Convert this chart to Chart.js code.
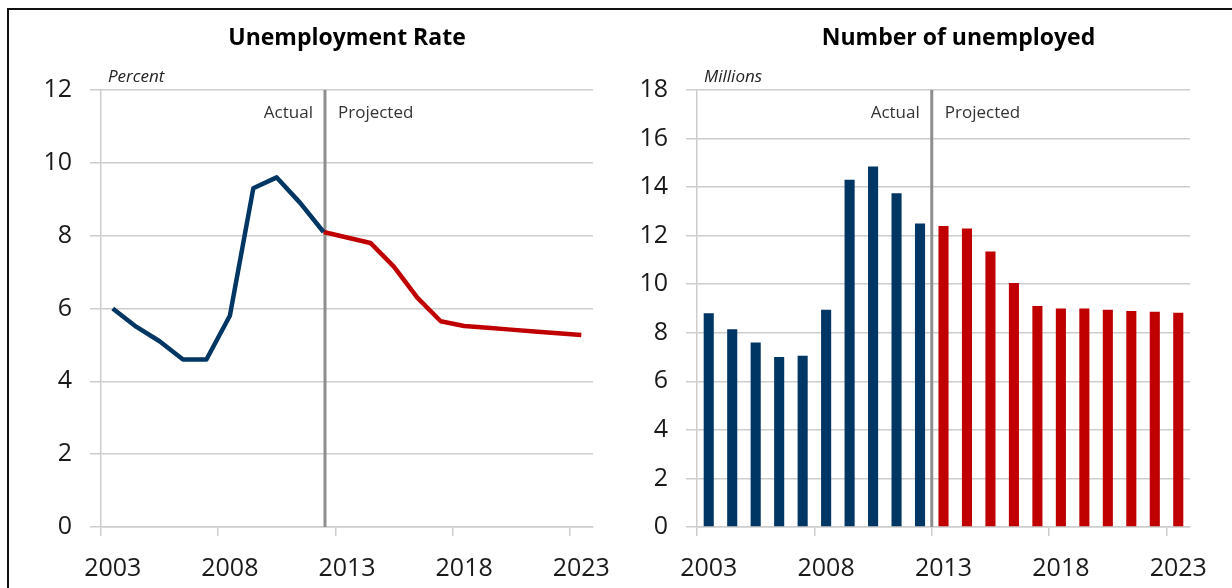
<!DOCTYPE html>
<html>
<head>
<meta charset="utf-8">
<script src="https://cdn.jsdelivr.net/npm/chart.js@4.4.1/dist/chart.umd.min.js"></script>
<style>
  html, body { margin: 0; padding: 0; background: #fff; }
  body { width: 1232px; height: 588px; position: relative; overflow: hidden; }
  #frame { position: absolute; left: 7px; top: 8px; width: 1240px; height: 600px;
           border-top: 2px solid #111; border-left: 2px solid #111; }
  .box { position: absolute; top: 0; width: 616px; height: 588px; }
  #rateBox { left: 0; }
  #countBox { left: 616px; }
</style>
</head>
<body>
<div id="frame"></div>
<div class="box" id="rateBox"><canvas id="rateChart"></canvas></div>
<div class="box" id="countBox"><canvas id="countChart"></canvas></div>
<script>
// years on the category axis, only every 5th one gets a label
var years = ['2003','2004','2005','2006','2007','2008','2009','2010','2011','2012','2013',
             '2014','2015','2016','2017','2018','2019','2020','2021','2022','2023'];

// unemployment rate, percent
var actualRate = [6.0, 5.5, 5.1, 4.6, 4.6, 5.8, 9.3, 9.6, 8.9, 8.1];                          // 2003-2012
var projectedRate = [8.1, 7.95, 7.8, 7.15, 6.3, 5.65, 5.52, 5.47, 5.42, 5.37, 5.32, 5.27];     // 2012-2023

// number of unemployed, millions
var actualUnemployed = [8.8, 8.15, 7.6, 7.0, 7.05, 8.95, 14.3, 14.85, 13.75, 12.5];           // 2003-2012
var projectedUnemployed = [12.4, 12.3, 11.35, 10.05, 9.1, 9.0, 9.0, 8.95, 8.9, 8.87, 8.83];   // 2013-2023

var navy = '#003664';
var red = '#c00000';
var gridGrey = '#cdcdcd';
var font = '"Open Sans", "Liberation Sans", sans-serif';

// put a series at its place on the 21 year axis
function place(values, startYear) {
  var out = years.map(function () { return null; });
  var first = years.indexOf(startYear);
  values.forEach(function (v, i) { out[first + i] = v; });
  return out;
}

// titles, unit label, and the actual / projected divider
var decorations = {
  id: 'decorations',
  beforeDatasetsDraw: function (chart, args, o) {
    var ctx = chart.ctx, area = chart.chartArea;
    var x = chart.scales.x.getPixelForValue(o.split);
    ctx.save();
    ctx.strokeStyle = '#8e8e8e';
    ctx.lineWidth = 3;
    ctx.beginPath();
    ctx.moveTo(x, area.top);
    ctx.lineTo(x, area.bottom);
    ctx.stroke();

    ctx.fillStyle = '#333';
    ctx.font = '17px ' + font;
    ctx.textBaseline = 'middle';
    ctx.textAlign = 'right';
    ctx.fillText('Actual', x - 12, area.top + 23);
    ctx.textAlign = 'left';
    ctx.fillText('Projected', x + 13, area.top + 23);
    ctx.restore();
  },
  afterDraw: function (chart, args, o) {
    var ctx = chart.ctx, area = chart.chartArea;
    ctx.save();
    ctx.fillStyle = '#000';
    ctx.textBaseline = 'middle';
    ctx.textAlign = 'center';
    ctx.font = 'bold 23px ' + font;
    ctx.fillText(o.title, (area.left + area.right) / 2 + o.titleShift, 38);
    ctx.fillStyle = '#222';
    ctx.textAlign = 'left';
    ctx.font = 'italic 17px ' + font;
    ctx.fillText(o.unit, area.left + 7, area.top - 13);
    ctx.restore();
  }
};

function xAxis() {
  return {
    type: 'category',
    offset: true,
    grid: {
      offset: true,
      drawOnChartArea: false,
      tickLength: 9,
      lineWidth: 1.5,
      color: function (c) { return c.index % 5 === 0 ? gridGrey : 'rgba(0,0,0,0)'; }
    },
    border: { display: true, color: gridGrey, width: 1.5 },
    ticks: {
      autoSkip: false,
      maxRotation: 0,
      padding: 18,
      color: '#1a1a1a',
      font: { family: font, size: 25 },
      callback: function (v, i) { return i % 5 === 0 ? this.getLabelForValue(v) : ''; }
    },
    afterFit: function (s) {
      s.height = 61;
      s.paddingLeft = 0;
      s.paddingRight = 0;
    }
  };
}

function yAxis(max, width) {
  return {
    min: 0,
    max: max,
    grid: { color: gridGrey, lineWidth: 1.5, tickLength: 11 },
    border: { display: true, color: gridGrey, width: 1.5 },
    ticks: {
      stepSize: 2,
      padding: 18,
      color: '#1a1a1a',
      font: { family: font, size: 25 }
    },
    afterFit: function (s) {
      s.width = width;
      s.paddingTop = 0;
      s.paddingBottom = 0;
    }
  };
}

new Chart(document.getElementById('rateChart'), {
  type: 'line',
  data: {
    labels: years,
    datasets: [{
      data: place(actualRate, '2003'),
      borderColor: navy,
      borderWidth: 4.5,
      pointRadius: 0,
      tension: 0
    }, {
      data: place(projectedRate, '2012'),
      borderColor: red,
      borderWidth: 4.5,
      pointRadius: 0,
      tension: 0
    }]
  },
  options: {
    responsive: true,
    maintainAspectRatio: false,
    animation: false,
    layout: { padding: { top: 90, left: 0, right: 23, bottom: 0 } },
    elements: { line: { borderJoinStyle: 'round' } },
    scales: { x: xAxis(), y: yAxis(12, 101) },
    plugins: {
      legend: { display: false },
      tooltip: { enabled: false },
      decorations: { title: 'Unemployment Rate', unit: 'Percent', split: 9.06, titleShift: 0 }
    }
  },
  plugins: [decorations]
});

new Chart(document.getElementById('countChart'), {
  type: 'bar',
  data: {
    labels: years,
    datasets: [{
      data: place(actualUnemployed, '2003'),
      backgroundColor: navy,
      grouped: false,
      barPercentage: 0.43,
      categoryPercentage: 1
    }, {
      data: place(projectedUnemployed, '2013'),
      backgroundColor: red,
      grouped: false,
      barPercentage: 0.43,
      categoryPercentage: 1
    }]
  },
  options: {
    responsive: true,
    maintainAspectRatio: false,
    animation: false,
    layout: { padding: { top: 90, left: 0, right: 42, bottom: 0 } },
    scales: { x: xAxis(), y: yAxis(18, 81) },
    plugins: {
      legend: { display: false },
      tooltip: { enabled: false },
      decorations: { title: 'Number of unemployed', unit: 'Millions', split: 9.5, titleShift: 15 }
    }
  },
  plugins: [decorations]
});
</script>
</body>
</html>
